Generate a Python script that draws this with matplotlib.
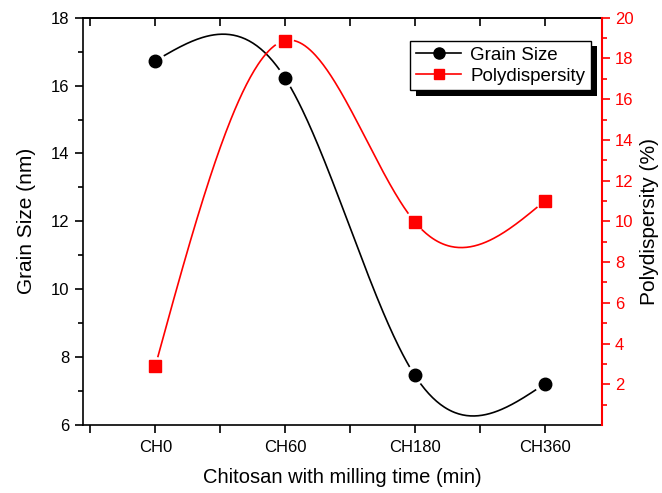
import numpy as np
import matplotlib
matplotlib.use("Agg")
import matplotlib.pyplot as plt
from matplotlib.lines import Line2D
from matplotlib.patches import Rectangle

samples = ["CH0", "CH60", "CH180", "CH360"]
grain_size = [16.73, 16.22, 7.46, 7.21]
polydispersity = [2.9, 18.88, 9.97, 11.0]

plt.rcParams['font.family'] = ['Liberation Sans', 'DejaVu Sans']


def natural_spline(x, y, n=300):
    # natural cubic spline through the points (like Origin's spline line)
    x = np.asarray(x, float)
    y = np.asarray(y, float)
    k = len(x)
    h = np.diff(x)
    A = np.zeros((k, k))
    b = np.zeros(k)
    A[0, 0] = A[-1, -1] = 1
    for i in range(1, k - 1):
        A[i, i - 1] = h[i - 1]
        A[i, i] = 2 * (h[i - 1] + h[i])
        A[i, i + 1] = h[i]
        b[i] = 6 * ((y[i + 1] - y[i]) / h[i] - (y[i] - y[i - 1]) / h[i - 1])
    M = np.linalg.solve(A, b)
    xs = np.linspace(x[0], x[-1], n)
    idx = np.clip(np.searchsorted(x, xs) - 1, 0, k - 2)
    x0, x1 = x[idx], x[idx + 1]
    hh = x1 - x0
    t1 = x1 - xs
    t0 = xs - x0
    ys = (M[idx] * t1**3 / (6 * hh) + M[idx + 1] * t0**3 / (6 * hh)
          + (y[idx] / hh - M[idx] * hh / 6) * t1
          + (y[idx + 1] / hh - M[idx + 1] * hh / 6) * t0)
    return xs, ys


def gap_line(ax, xs, ys, px, py, r):
    # leave a small gap in the line around each marker
    pts = ax.transData.transform(np.column_stack([xs, ys]))
    mk = ax.transData.transform(np.column_stack([px, py]))
    ys = ys.copy()
    for m in mk:
        d = np.hypot(pts[:, 0] - m[0], pts[:, 1] - m[1])
        ys[d < r] = np.nan
    return ys


fig = plt.figure(figsize=(6.62, 4.93), dpi=100)
L, R, T, B = 82.7, 601.7, 17.7, 425.0
ax = fig.add_axes([L / 662, 1 - B / 493, (R - L) / 662, (B - T) / 493])
ax2 = ax.twinx()

x = np.arange(len(samples))
ax.set_xlim(-0.56, 3.44)
ax.set_ylim(6, 18)
ax2.set_ylim(0, 20)

xs, ys = natural_spline(x, grain_size)
ax.plot(xs, gap_line(ax, xs, ys, x, grain_size, 10), color='black', lw=1.2)
ax.plot(x, grain_size, 'o', color='black', ms=9)

xs2, ys2 = natural_spline(x, polydispersity)
ax2.plot(xs2, gap_line(ax2, xs2, ys2, x, polydispersity, 9.5), color='red', lw=1.2)
ax2.plot(x, polydispersity, 's', color='red', ms=8)

# x axis
ax.set_xticks(x)
ax.set_xticklabels(samples)
ax.set_xticks(np.arange(-0.5, 3.5, 1.0), minor=True)
ax.tick_params(axis='x', which='both', direction='out', length=6, width=1.2,
               labelsize=12, pad=5)
ax.set_xlabel("Chitosan with milling time (min)", fontsize=14.5, labelpad=9)

top = ax.secondary_xaxis('top')
top.set_xticks(x, labels=[])
top.set_xticks(np.arange(-0.5, 3.5, 1.0), minor=True)
top.tick_params(axis='x', which='both', direction='in', length=6, width=1.2)
top.spines['top'].set_linewidth(1.2)

# left y axis
ax.set_yticks(np.arange(6, 19, 2))
ax.set_yticks(np.arange(7, 18, 2), minor=True)
ax.tick_params(axis='y', which='major', direction='out', length=6, width=1.2,
               labelsize=12)
ax.tick_params(axis='y', which='minor', direction='out', length=3.5, width=1.2)
ax.set_ylabel("Grain Size (nm)", fontsize=15, labelpad=11)

# right y axis
ax2.set_yticks(np.arange(2, 21, 2))
ax2.set_yticks(np.arange(1, 20, 2), minor=True)
ax2.tick_params(axis='y', which='major', direction='out', length=6, width=1.2,
                labelsize=12, colors='red')
ax2.tick_params(axis='y', which='minor', direction='out', length=3.5, width=1.2,
                colors='red')
ax2.set_ylabel("Polydispersity (%)", fontsize=15, labelpad=5)

for sp in ['left', 'bottom', 'top']:
    ax.spines[sp].set_linewidth(1.2)
ax.spines['right'].set_visible(False)
ax2.spines['right'].set_color('red')
ax2.spines['right'].set_linewidth(1.5)
ax2.spines['left'].set_visible(False)
ax2.spines['bottom'].set_visible(False)
ax2.spines['top'].set_visible(False)

handles = [
    Line2D([], [], color='black', marker='o', ms=8, lw=1.2),
    Line2D([], [], color='red', marker='s', ms=7, lw=1.2),
]
leg = ax2.legend(handles, ["Grain Size", "Polydispersity"],
                 loc='upper right', bbox_to_anchor=((591 - L) / (R - L), 1 - (41 - T) / (B - T)),
                 borderaxespad=0, fancybox=False, edgecolor='black', framealpha=1,
                 fontsize=13.5, handlelength=2.4, handletextpad=0.5,
                 labelspacing=0.2, borderpad=0.3)
leg.get_frame().set_linewidth(1.0)

# drop shadow behind the legend
fig.canvas.draw()
bb = leg.get_window_extent()
shadow = Rectangle((bb.x0 + 5.5, bb.y0 - 5.5), bb.width, bb.height,
                   transform=None, facecolor='black', edgecolor='none',
                   zorder=leg.get_zorder() - 0.1, clip_on=False)
ax2.add_artist(shadow)

fig.savefig("out.png", dpi=100)
